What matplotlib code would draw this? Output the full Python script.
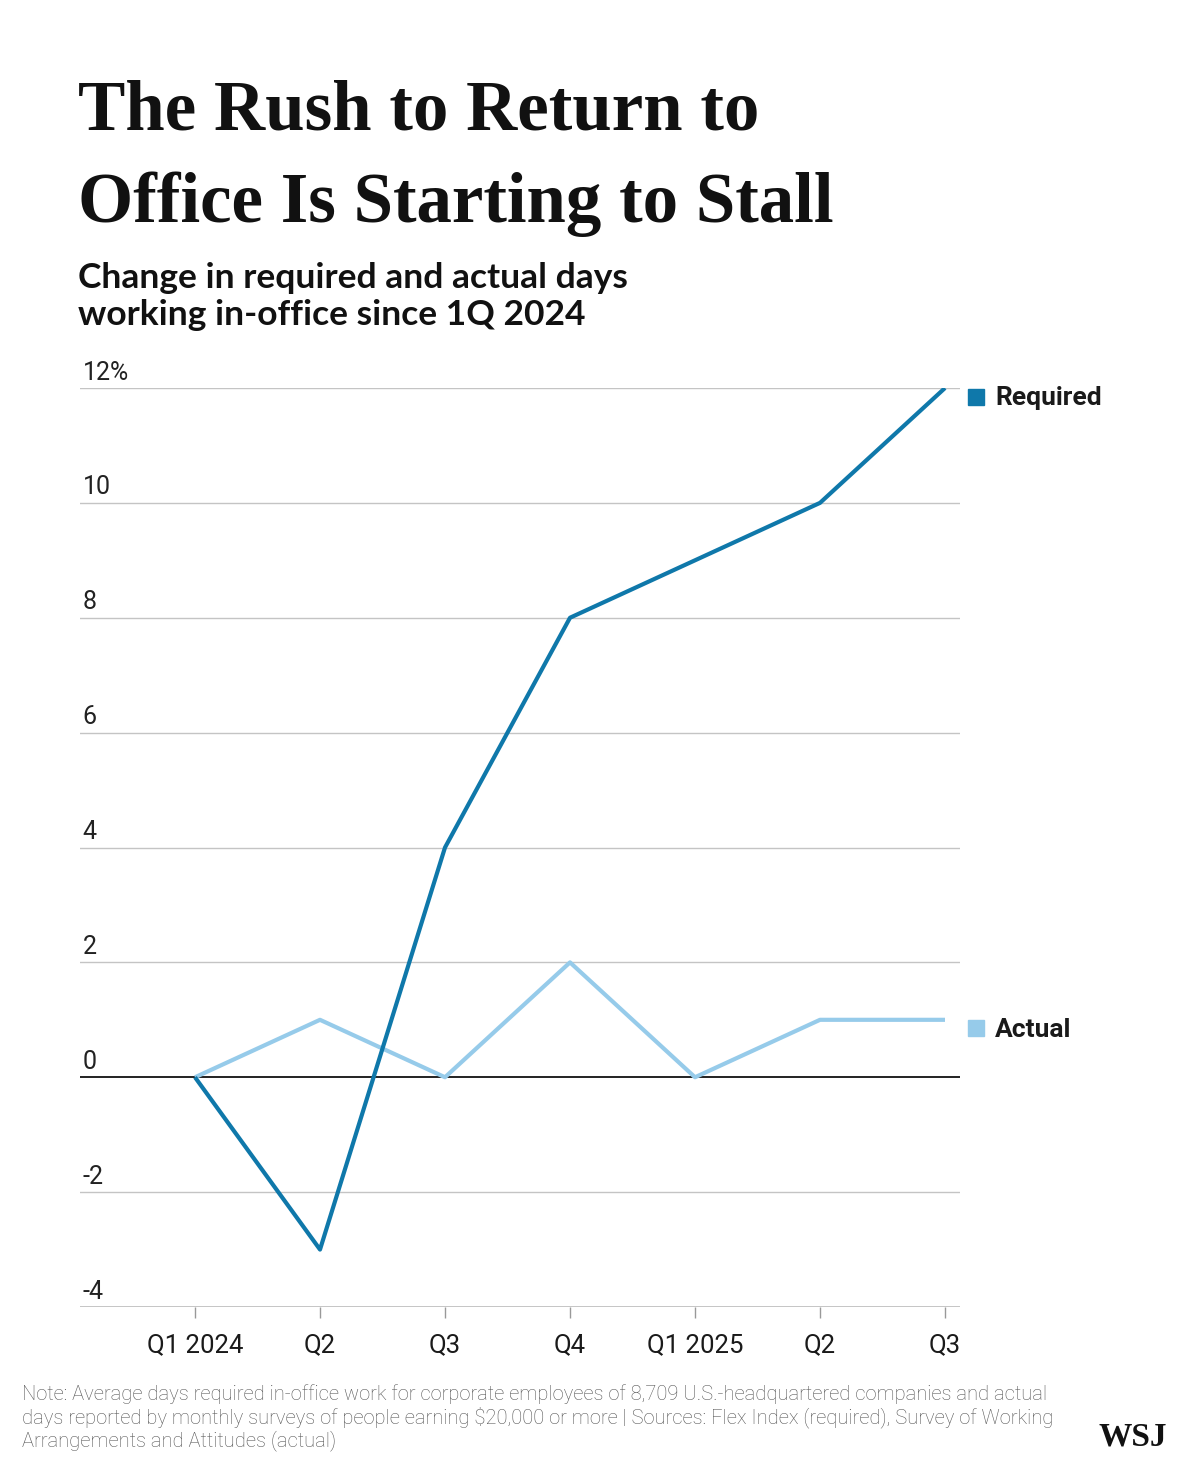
import matplotlib
matplotlib.use("Agg")
import matplotlib.pyplot as plt

quarters = ["Q1 2024", "Q2", "Q3", "Q4", "Q1 2025", "Q2", "Q3"]
required = [0, -3, 4, 8, 9, 10, 12]
actual = [0, 1, 0, 2, 0, 1, 1]
yticks = [-4, -2, 0, 2, 4, 6, 8, 10, 12]
ylabels = ["-4", "-2", "0", "2", "4", "6", "8", "10", "12%"]

DARK = "#0f78aa"
LIGHT = "#96cbea"

W, H = 1179, 1460
fig = plt.figure(figsize=(W / 100, H / 100), dpi=100)

def px(xp, yp):
    return xp / W, 1 - yp / H

# axes box in pixels: left 80, right 960, top 388, bottom 1307
ax = fig.add_axes([80 / W, 1 - 1307 / H, 880 / W, (1307 - 388) / H])
x = list(range(len(quarters)))
ax.set_xlim(-0.92, 6.12)
ax.set_ylim(-4, 12)

for t, lab in zip(yticks, ylabels):
    if t == 0:
        ax.axhline(t, color="#222222", lw=1.4, zorder=2)
    elif t == -4:
        ax.axhline(t, color="#bbbbbb", lw=1.2, zorder=1)
    else:
        ax.axhline(t, color="#c4c4c4", lw=1.0, zorder=1)
    ax.text(-0.9, t + 0.06, lab, fontsize=18, color="#222222",
            family="Roboto", ha="left", va="bottom")

ax.plot(x, actual, color=LIGHT, lw=3, zorder=3, solid_capstyle="butt")
ax.plot(x, required, color=DARK, lw=3, zorder=4, solid_capstyle="butt")

for s in ax.spines.values():
    s.set_visible(False)
ax.set_yticks([])
ax.set_xticks(x)
ax.set_xticklabels(quarters, fontsize=18.5, family="Roboto", color="#1a1a1a")
ax.tick_params(axis="x", length=8, width=1, color="#999999", pad=11)

# end labels
for y, lab, col in [(required[-1], "Required", DARK), (actual[-1], "Actual", LIGHT)]:
    ax.plot([6.248], [y - 0.15], marker="s", ms=12, color=col, clip_on=False,
            linestyle="none")
    ax.text(6.4, y - 0.17, lab, color="#1a1a1a", fontsize=19, fontweight="bold",
            family="Roboto", ha="left", va="center")

title_kw = dict(fontsize=51, fontweight="bold", family="Liberation Serif",
                color="#111111", ha="left", va="baseline")
fig.text(*px(78, 130), "The Rush to Return to", **title_kw)
fig.text(*px(78, 222), "Office Is Starting to Stall", **title_kw)

sub_kw = dict(fontsize=25.5, fontweight="bold", family="Lato", color="#111111",
              ha="left", va="baseline")
fig.text(*px(78, 288), "Change in required and actual days", **sub_kw)
fig.text(*px(78, 325), "working in-office since 1Q 2024", **sub_kw)

note = ("Note: Average days required in-office work for corporate employees of 8,709 U.S.-headquartered companies and actual\n"
        "days reported by monthly surveys of people earning $20,000 or more | Sources: Flex Index (required), Survey of Working\n"
        "Arrangements and Attitudes (actual)")
fig.text(*px(22, 1446), note, fontsize=14.5, family="Roboto", fontweight="light",
         color="#555555", ha="left", va="baseline", linespacing=1.12)
fig.text(*px(1167, 1446), "WSJ", fontsize=24, fontweight="bold",
         family="Liberation Serif", color="#111111", ha="right", va="baseline")

fig.savefig("out.png", dpi=100)
